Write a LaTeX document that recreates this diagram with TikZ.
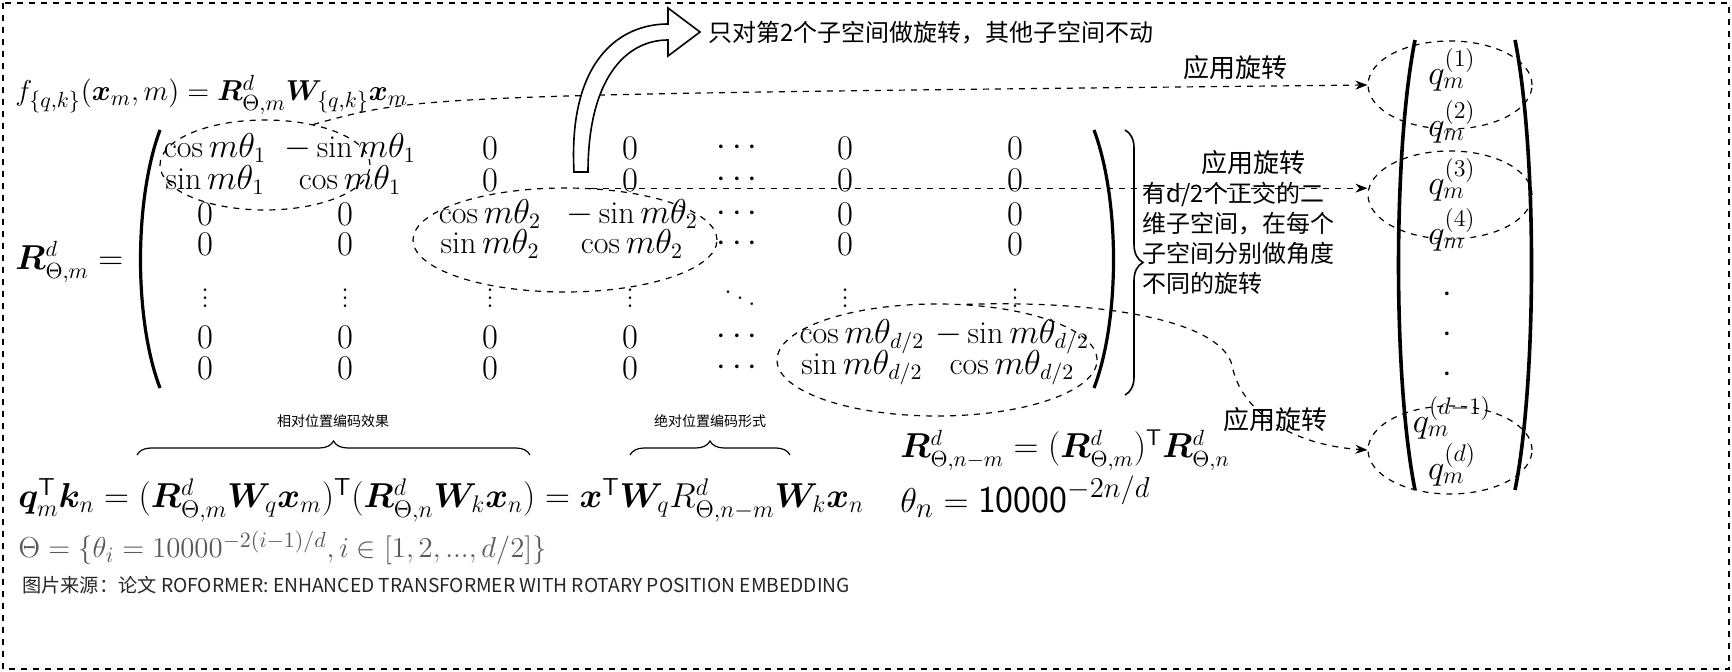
\documentclass[tikz,border=0pt]{standalone}
\usepackage{amsmath,amssymb,bm}
\usepackage{fontspec}
\newfontfamily\cjk{Noto Sans CJK SC}
\usetikzlibrary{decorations.pathreplacing,arrows.meta,shapes.geometric}
\tikzset{
  cell/.style={inner sep=0pt,font=\fontsize{16}{18}\selectfont},
  qcell/.style={inner sep=0pt,font=\fontsize{18}{20}\selectfont},
  dsh/.style={dashed,line width=0.6pt},
  ell/.style={dsh,draw,ellipse,inner sep=0pt},
  lbl/.style={font=\cjk\fontsize{13}{15}\selectfont,inner sep=0pt},
  darr/.style={dsh,-{Stealth[length=6pt]}},
}
\begin{document}
\begin{tikzpicture}[x=0.5pt,y=-0.5pt]
\useasboundingbox (0,0) rectangle (1732,672);
\draw[dashed,line width=0.6pt] (3,3) rectangle (1729,669);

\node[anchor=west,inner sep=0pt,font=\fontsize{15.5}{18}\selectfont] (feq) at (15,95) {$f_{\{q,k\}}(\bm{x}_m,m)=\bm{R}^d_{\Theta,m}\bm{W}_{\{q,k\}}\bm{x}_m$};
\node[anchor=west,inner sep=0pt,font=\fontsize{16}{18}\selectfont] (Req) at (15,262) {$\bm{R}^d_{\Theta,m}=$};

% matrix
\foreach \x/\t [count=\i] in {215/{\cos m\theta_1},350/{-\sin m\theta_1},490/0,630/0,740/\cdots,845/0,1015/0}
  \node[cell] (a\i) at (\x,148) {$\t$};
\foreach \x/\t [count=\i] in {215/{\sin m\theta_1},350/{\cos m\theta_1},490/0,630/0,740/\cdots,845/0,1015/0}
  \node[cell] (b\i) at (\x,180) {$\t$};
\foreach \x/\t [count=\i] in {205/0,345/0,490/{\cos m\theta_2},632/{-\sin m\theta_2},740/\cdots,845/0,1015/0}
  \node[cell] (c\i) at (\x,214) {$\t$};
\foreach \x/\t [count=\i] in {205/0,345/0,490/{\sin m\theta_2},632/{\cos m\theta_2},740/\cdots,845/0,1015/0}
  \node[cell] (d\i) at (\x,244) {$\t$};
\foreach \x/\t [count=\i] in {205/\vdots,345/\vdots,490/\vdots,630/\vdots,740/\ddots,845/\vdots,1015/\vdots}
  \node[cell] (e\i) at (\x,292) {$\t$};
\foreach \x/\t [count=\i] in {205/0,345/0,490/0,630/0,740/\cdots,862/{\cos m\theta_{d/2}},1012/{-\sin m\theta_{d/2}}}
  \node[cell] (f\i) at (\x,337) {$\t$};
\foreach \x/\t [count=\i] in {205/0,345/0,490/0,630/0,740/\cdots,862/{\sin m\theta_{d/2}},1012/{\cos m\theta_{d/2}}}
  \node[cell] (g\i) at (\x,368) {$\t$};
\draw[line width=1.6pt] (160,130) .. controls (134,200) and (134,320) .. (160,388);
\draw[line width=1.6pt] (1094,130) .. controls (1120,200) and (1120,320) .. (1094,388);
\draw[decorate,decoration={brace,amplitude=9pt},line width=0.8pt] (1125,130) -- (1125,395);
\node[lbl,anchor=north west,align=left,font=\cjk\fontsize{12}{15}\selectfont] (note) at (1142,182) {有d/2个正交的二\\维子空间，在每个\\子空间分别做角度\\不同的旋转};

% ellipses on matrix
\node[ell,minimum width=105pt,minimum height=45pt] (e1) at (265,165) {};
\node[ell,minimum width=152pt,minimum height=52pt] (e2) at (565,240) {};
\node[ell,minimum width=160pt,minimum height=56pt] (e3) at (937,360) {};

% q vector
\draw[line width=1.8pt] (1415,40) .. controls (1393,150) and (1393,380) .. (1415,490);
\draw[line width=1.8pt] (1515,40) .. controls (1537,150) and (1537,380) .. (1515,490);
\foreach \y/\t [count=\i] in {70/{(1)},122/{(2)},180/{(3)},230/{(4)},465/{(d)}}
  \node[qcell] (q\i) at (1452,\y) {$q_m^{\t}$};
\node[qcell] (qd1) at (1452,418) {$q_m^{(d-1)}$};
\foreach \y [count=\i] in {295,335,375}
  \node[qcell] (dot\i) at (1447,\y) {$\cdot$};
\node[ell,minimum width=82pt,minimum height=44pt] (r1) at (1450,85) {};
\node[ell,minimum width=82pt,minimum height=44pt] (r2) at (1450,195) {};
\node[ell,minimum width=82pt,minimum height=44pt] (r3) at (1450,450) {};

% arrows
\draw[darr] (e1.40) .. controls (420,95) .. (r1.west);
\node[lbl] (l1) at (1235,68) {应用旋转};
\draw[darr] (e2.63) -- (e2.63 -| r2.west) ;
\node[lbl] (l2) at (1253,163) {应用旋转};
\draw[darr] (e3.62) .. controls (1100,300) and (1220,320) .. (1232,365) .. controls (1240,410) and (1290,445) .. (r3.west);
\node[lbl] (l3) at (1275,420) {应用旋转};

% hollow arrow
\draw[fill=white,line width=0.8pt] (574,172) .. controls (568,60) and (620,24) .. (668,24) -- (668,8) -- (700,32) -- (668,56) -- (668,40) .. controls (625,40) and (588,80) .. (588,172) -- cycle;
\node[lbl,anchor=west,font=\cjk\fontsize{12}{14}\selectfont] (top) at (708,33) {只对第2个子空间做旋转，其他子空间不动};

% braces
\draw[decorate,decoration={brace,amplitude=7pt},line width=0.6pt] (137,455) -- (530,455);
\node[lbl,font=\cjk\fontsize{7}{8}\selectfont] (b1l) at (333,421) {相对位置编码效果};
\draw[decorate,decoration={brace,amplitude=7pt},line width=0.6pt] (630,455) -- (790,455);
\node[lbl,font=\cjk\fontsize{7}{8}\selectfont] (b2l) at (710,421) {绝对位置编码形式};

\node[anchor=west,inner sep=0pt,font=\fontsize{17.5}{20}\selectfont] (qk) at (18,500) {$\bm{q}_m^{\mathsf{T}}\bm{k}_n=(\bm{R}^d_{\Theta,m}\bm{W}_q\bm{x}_m)^{\mathsf{T}}(\bm{R}^d_{\Theta,n}\bm{W}_k\bm{x}_n)=\bm{x}^{\mathsf{T}}\bm{W}_qR^d_{\Theta,n-m}\bm{W}_k\bm{x}_n$};
\node[anchor=west,inner sep=0pt,text=black!65,font=\fontsize{15.5}{17}\selectfont] (th) at (18,548) {$\Theta=\{\theta_i=10000^{-2(i-1)/d},i\in[1,2,...,d/2]\}$};
\node[anchor=west,lbl,font=\cjk\fontsize{9.6}{11}\selectfont,text=black!85] (src) at (22,585) {图片来源：论文 ROFORMER: ENHANCED TRANSFORMER WITH ROTARY POSITION EMBEDDING};
\node[anchor=west,inner sep=0pt,font=\fontsize{16.2}{19}\selectfont] (rr) at (900,450) {$\bm{R}^d_{\Theta,n-m}=(\bm{R}^d_{\Theta,m})^{\mathsf{T}}\bm{R}^d_{\Theta,n}$};
\node[anchor=west,inner sep=0pt,font=\fontsize{19}{21}\selectfont] (tn) at (900,497) {$\theta_n=\text{\sffamily 10000}^{-2n/d}$};
\end{tikzpicture}
\end{document}
